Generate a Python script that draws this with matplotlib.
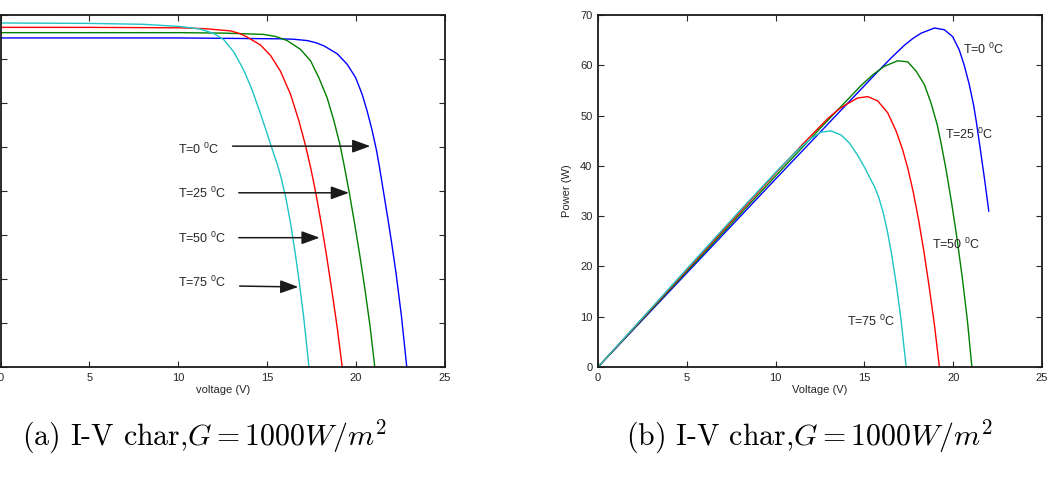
import matplotlib as mpl
mpl.use('Agg')
import matplotlib.pyplot as plt
import numpy as np

# I-V curves (V in volts, I in amps)
temps = ["0", "25", "50", "75"]
colors = ["#0000ff", "#008000", "#ff0000", "#1fc4c4"]

v_t0 = [0, 5, 10, 15.75, 16.5, 17.25, 17.75, 18.19, 18.94, 19.5, 19.97, 20.34, 20.62,
        20.9, 21.15, 21.3, 21.55, 21.8, 22.0, 22.25, 22.55, 22.85]
i_t0 = [3.74, 3.74, 3.74, 3.73, 3.725, 3.71, 3.685, 3.65, 3.56, 3.44, 3.29, 3.10, 2.91,
        2.69, 2.46, 2.29, 1.98, 1.67, 1.41, 1.06, 0.58, 0.0]

v_t25 = [0, 5, 10, 12.5, 14.81, 15.5, 16.12, 16.87, 17.44, 17.9, 18.37, 18.75, 19.09,
         19.31, 19.6, 19.9, 20.2, 20.5, 20.8, 21.05]
i_t25 = [3.80, 3.80, 3.80, 3.795, 3.78, 3.755, 3.71, 3.61, 3.48, 3.29, 3.06, 2.80, 2.53,
         2.31, 2.0, 1.65, 1.28, 0.88, 0.44, 0.0]

v_t50 = [0, 5, 10.1, 11.5, 12.94, 13.45, 13.87, 14.62, 15.19, 15.75, 16.31, 16.78, 17.15,
         17.45, 17.75, 18.05, 18.35, 18.65, 18.95, 19.22]
i_t50 = [3.86, 3.86, 3.855, 3.845, 3.82, 3.79, 3.75, 3.66, 3.54, 3.36, 3.10, 2.80, 2.52,
         2.26, 1.96, 1.62, 1.25, 0.85, 0.43, 0.0]

v_t75 = [0, 5, 8, 10.1, 11.25, 12.0, 12.56, 13.12, 13.69, 14.15, 14.62, 15.0, 15.37,
         15.56, 15.8, 16.05, 16.3, 16.55, 16.8, 17.05, 17.35]
i_t75 = [3.91, 3.905, 3.895, 3.87, 3.84, 3.79, 3.72, 3.58, 3.37, 3.15, 2.88, 2.65, 2.42,
         2.31, 2.14, 1.92, 1.65, 1.33, 0.97, 0.57, 0.0]

volts = [v_t0, v_t25, v_t50, v_t75]
amps = [i_t0, i_t25, i_t50, i_t75]
p_vmax = [22.0, 25, 25, 25]   # power curve of T=0 stops at 22 V

plt.rcParams['font.family'] = ['Liberation Sans', 'DejaVu Sans']
plt.rcParams['mathtext.fontset'] = 'custom'
plt.rcParams['mathtext.rm'] = 'Liberation Sans'
plt.rcParams['mathtext.it'] = 'Liberation Sans:italic'
txt_col = '#262626'

fig = plt.figure(figsize=(10.53, 4.92), dpi=100)
ax1 = fig.add_axes([0.0005, 0.254, 0.4221, 0.7154])
ax2 = fig.add_axes([0.5679, 0.254, 0.4217, 0.7154])

for v, i, c, vm in zip(volts, amps, colors, p_vmax):
    v = np.array(v)
    i = np.array(i)
    ax1.plot(v, i, color=c, lw=1.0)
    keep = v <= vm
    ax2.plot(v[keep], v[keep] * i[keep], color=c, lw=1.0)

for ax in (ax1, ax2):
    ax.set_xlim(0, 25)
    ax.set_xticks(range(0, 26, 5))
    ax.tick_params(direction='in', top=True, right=True, length=4, width=0.8,
                   labelsize=8, colors=txt_col, pad=4)
    for s in ax.spines.values():
        s.set_linewidth(1.3)
        s.set_color('#1a1a1a')

ax1.set_ylim(0, 4)
ax1.set_yticks(np.arange(0, 4.01, 0.5))
ax1.set_yticklabels([])   # cut off by the left edge in the original
ax1.set_xlabel("voltage (V)", fontsize=8, color=txt_col, labelpad=2)

ax2.set_ylim(0, 70)
ax2.set_yticks(range(0, 71, 10))
ax2.set_xlabel("Voltage (V)", fontsize=8, color=txt_col, labelpad=2)
ax2.set_ylabel("Power (W)", fontsize=8, color=txt_col, labelpad=6)

arrow = dict(arrowstyle='-|>,head_length=0.55,head_width=0.2', color='#1a1a1a',
             lw=1.1, mutation_scale=20, shrinkA=0, shrinkB=0)
# labels and arrows on the I-V panel: (text x, text y, arrow start, arrow end)
iv_notes = [(10.0, 2.47, (13.05, 2.51), (20.8, 2.51)),
            (10.0, 1.97, (13.4, 1.98), (19.6, 1.98)),
            (10.0, 1.46, (13.4, 1.47), (17.95, 1.47)),
            (10.0, 0.96, (13.45, 0.92), (16.75, 0.91))]
for t, (tx, ty, a0, a1) in zip(temps, iv_notes):
    ax1.text(tx, ty, r'T=%s $^{0}$C' % t, fontsize=9, color=txt_col, va='center')
    ax1.annotate('', xy=a1, xytext=a0, arrowprops=arrow)

pv_notes = [(20.55, 63.2), (19.55, 46.3), (18.8, 24.4), (14.0, 9.1)]
for t, (tx, ty) in zip(temps, pv_notes):
    ax2.text(tx, ty, r'T=%s $^{0}$C' % t, fontsize=9, color=txt_col, va='center')

fig.text(0.1947, 0.112, r'$\text{(a) I-V char,}G = 1000W/m^2$', fontsize=21.5,
         math_fontfamily='cm', ha='center', va='center')
fig.text(0.769, 0.112, r'$\text{(b) I-V char,}G = 1000W/m^2$', fontsize=21.5,
         math_fontfamily='cm', ha='center', va='center')

fig.savefig("out.png", dpi=100)
